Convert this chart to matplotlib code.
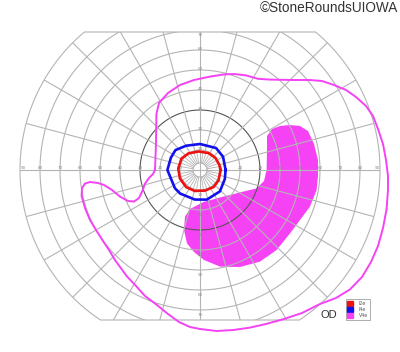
import numpy as np
import matplotlib
matplotlib.use('Agg')
import matplotlib.pyplot as plt
from matplotlib.patches import Polygon, Patch

# isopters, degrees of visual field (angle in deg, radius in deg)
i2e_ang = [0, 15, 38, 63, 95, 125, 148, 176, 203, 231, 256, 284, 309, 331]
i2e_rad = [10.3, 10.0, 9.8, 9.5, 9.3, 10.1, 10.9, 10.9, 10.9, 11.0, 10.8, 10.6, 10.9, 10.6]

i4e_ang = [0, 30, 54, 90, 120, 141, 157, 180, 216, 230, 260, 283, 313, 340]
i4e_rad = [12.8, 13.3, 13.6, 13.0, 14.0, 15.8, 15.8, 16.3, 15.5, 15.4, 15.0, 15.2, 14.6, 13.2]

# V4e outer isopter, x/y in degrees
v4e_x = [-22.5, -22, -21.8, -20.5, -16, -10, -3, 5, 12, 17, 23, 29, 35, 47, 55, 61, 67, 73,
         78, 83, 86.5, 89, 91.5, 93, 94, 94, 93.3, 91.5, 89, 85.5, 81, 75, 68, 60, 51, 42, 33,
         25, 16.7, 8.3, 0, -5, -10.5, -16, -21.5, -27.5, -32, -36.7, -42.5, -45.5, -48.5, -52,
         -55, -57.5, -59.2, -59, -57.5, -55, -51, -48, -44, -40, -36, -33, -30.5, -28.8, -27.5,
         -25.5, -23.5, -22.5]
v4e_y = [0, 13, 28, 33.5, 38.5, 42.5, 45, 46.7, 47.8, 48, 47.3, 45.6, 45.2, 45, 45, 44.5, 42.5, 40,
         36.5, 32, 27, 20.5, 13, 5, -3, -10, -19.5, -29, -38, -46, -53.5, -59.7, -64, -67, -71.5,
         -74.5, -77, -78.8, -80, -80.5, -79.5, -78.5, -76, -72, -67.5, -63, -58, -53, -45, -40,
         -35.5, -30, -25, -19, -13, -9, -6.8, -6, -6.5, -7.5, -10, -13.3, -15.5, -15.8, -14,
         -10.5, -6.8, -4, -2, 0]

# V4e scotoma (filled)
scot_x = [33.5, 33.5, 36, 40, 45, 50, 54, 57, 59, 59, 58.3, 55, 50, 45, 38.3, 30, 20, 10, 2, -3,
          -6.5, -8, -7.5, -5, 1.7, 11.7, 21.7, 28.3, 32, 33.3]
scot_y = [10, 17, 20.5, 22, 22.5, 22, 19.5, 13, 5, -3, -10, -18.3, -25, -31.7, -40, -45.8, -48.5,
          -48.3, -45, -41, -36.7, -30, -23.3, -19.5, -16, -13.3, -10.8, -9.2, -5.5, 0]

ring_deg = [10, 20, 30, 40, 50, 60, 70, 80, 90]
names = ['I2e', 'I4e', 'V4e']
colors = ['#ee1111', '#1111ee', '#f542f5']

grid_col = '#b4b4b4'
top_y, bot_y = 69, -75

fig = plt.figure(figsize=(4, 3.52), dpi=100)
ax = fig.add_axes([0, 0, 1, 1])
ax.set_xlim(-100, 100)
ax.set_ylim(-91, 85)
ax.axis('off')

# chart outline: 90 deg circle cut by top and bottom chords
a_t = np.degrees(np.arcsin(top_y / 90))
a_b = np.degrees(np.arcsin(bot_y / 90))
th = np.radians(np.concatenate([np.linspace(a_b, a_t, 120),
                                np.linspace(180 - a_t, 180 - a_b, 120)]))
outline = Polygon(np.column_stack([90 * np.cos(th), 90 * np.sin(th)]), closed=True,
                  facecolor='none', edgecolor=grid_col, lw=0.8, zorder=2)
ax.add_patch(outline)

# scotoma under the grid
ax.fill(scot_x, scot_y, color=colors[2], lw=0, zorder=1)

t = np.linspace(0, 2 * np.pi, 400)
for r in ring_deg[:-1]:
    c = '#555555' if r == 30 else grid_col
    ln, = ax.plot(r * np.cos(t), r * np.sin(t), color=c, lw=0.8, zorder=2)
    ln.set_clip_path(outline)
ax.plot(3.5 * np.cos(t), 3.5 * np.sin(t), color=grid_col, lw=0.7, zorder=2)

for a in np.radians(np.arange(0, 360, 10)):
    ax.plot([3.5 * np.cos(a), 10 * np.cos(a)], [3.5 * np.sin(a), 10 * np.sin(a)],
            color=grid_col, lw=0.6, zorder=2)
for a in np.radians(np.arange(0, 360, 15)):
    ln, = ax.plot([10 * np.cos(a), 95 * np.cos(a)], [10 * np.sin(a), 95 * np.sin(a)],
                  color=grid_col, lw=0.8, zorder=2)
    ln.set_clip_path(outline)
ax.plot([-10, 10], [0, 0], color=grid_col, lw=0.8, zorder=2)
ax.plot([0, 0], [-10, 10], color=grid_col, lw=0.8, zorder=2)

# ring labels
lab = dict(fontsize=3, color='#8a8a8a', ha='center', zorder=3)
for r in ring_deg:
    xr = 88.5 if r == 90 else r
    ax.text(xr, 0, str(r), va='bottom', **lab)
    ax.text(-xr, 0, str(r), va='bottom', **lab)
    if r <= 70:
        ax.text(0, min(r + 0.4, 67.5), str(r), va='center', **lab)
        ax.text(0, -(r + 2.5), str(r), va='center', **lab)

# isopters
for ang, rad, c in [(i2e_ang, i2e_rad, colors[0]), (i4e_ang, i4e_rad, colors[1])]:
    a = np.radians(ang + ang[:1])
    rr = np.array(rad + rad[:1])
    ax.plot(rr * np.cos(a), rr * np.sin(a), color=c, lw=1.9, solid_joinstyle='round', zorder=4)
ax.plot(v4e_x, v4e_y, color=colors[2], lw=1.4, solid_joinstyle='round', zorder=4)

ax.text(64.5, -72.5, 'OD', fontsize=8, color='#333333', ha='center', va='center',
        family='Liberation Sans')
ax.text(99, 80.8, '\u00a9StoneRoundsUIOWA', fontsize=9.8, color='#333333', ha='right',
        va='center', family='Liberation Sans')

handles = [Patch(facecolor=c, edgecolor=c) for c in colors]
leg = ax.legend(handles, names, loc='upper left', bbox_to_anchor=(72.9, -64.6),
                bbox_transform=ax.transData, fontsize=3.4, handlelength=1.1,
                handleheight=1.1, handletextpad=1.3, labelspacing=0.25, borderpad=0.35,
                borderaxespad=0, frameon=True, fancybox=False, framealpha=1,
                edgecolor='#a0a0a0')
leg.get_frame().set_linewidth(0.6)
for txt in leg.get_texts():
    txt.set_color('#555555')

fig.savefig('out.png', dpi=100)
